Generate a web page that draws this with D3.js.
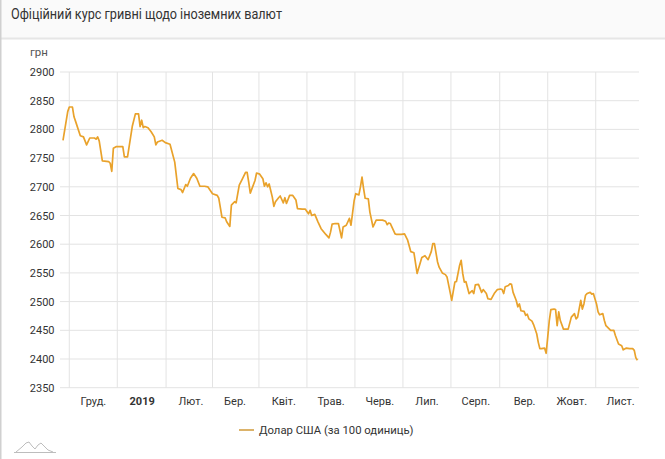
<!DOCTYPE html>
<html><head><meta charset="utf-8">
<script src="https://cdn.jsdelivr.net/npm/d3@7"></script>
<style>html,body{margin:0;padding:0;background:#fff;} svg{display:block;font-family:Roboto,"Noto Sans",sans-serif;}</style>
</head><body><svg id="chart" width="665" height="459"></svg>
<script>
const title = "Офіційний курс гривні щодо іноземних валют";
const unitLabel = "грн";
const seriesName = "Долар США (за 100 одиниць)";

const dates = [
"2018-11-12","2018-11-15","2018-11-16","2018-11-18","2018-11-19","2018-11-20","2018-11-23","2018-11-25","2018-11-27","2018-11-29",
"2018-12-02","2018-12-03","2018-12-04","2018-12-05","2018-12-07","2018-12-11","2018-12-12","2018-12-13","2018-12-14","2018-12-16",
"2018-12-20","2018-12-21","2018-12-23","2018-12-26","2018-12-28","2018-12-30","2018-12-31","2019-01-01","2019-01-02","2019-01-03",
"2019-01-05","2019-01-07","2019-01-09","2019-01-10","2019-01-11","2019-01-14","2019-01-16","2019-01-19","2019-01-22","2019-01-24",
"2019-01-26","2019-01-27","2019-01-29","2019-01-30","2019-02-01","2019-02-03","2019-02-05","2019-02-07","2019-02-10","2019-02-12",
"2019-02-15","2019-02-18","2019-02-19","2019-02-21","2019-02-23","2019-02-24","2019-02-26","2019-02-27","2019-03-01","2019-03-02",
"2019-03-04","2019-03-06","2019-03-08","2019-03-09","2019-03-10","2019-03-11","2019-03-14","2019-03-15","2019-03-17","2019-03-19",
"2019-03-20","2019-03-21","2019-03-22","2019-03-23","2019-03-25","2019-03-26","2019-03-27","2019-03-29","2019-03-30","2019-04-01",
"2019-04-02","2019-04-03","2019-04-05","2019-04-07","2019-04-09","2019-04-10","2019-04-13","2019-04-15","2019-04-17","2019-04-18",
"2019-04-19","2019-04-21","2019-04-23","2019-04-25","2019-04-28","2019-04-30","2019-05-01","2019-05-02","2019-05-04","2019-05-06",
"2019-05-08","2019-05-09","2019-05-11","2019-05-13","2019-05-14","2019-05-16","2019-05-17","2019-05-19","2019-05-20","2019-05-21",
"2019-05-22","2019-05-23","2019-05-25","2019-05-26","2019-05-28","2019-05-30","2019-06-03","2019-06-05","2019-06-06","2019-06-07",
"2019-06-08","2019-06-11","2019-06-12","2019-06-15","2019-06-17","2019-06-19","2019-06-21","2019-06-23","2019-06-25","2019-06-28",
"2019-06-30","2019-07-02","2019-07-04","2019-07-05","2019-07-06","2019-07-08","2019-07-09","2019-07-11","2019-07-13","2019-07-14",
"2019-07-16","2019-07-17","2019-07-19","2019-07-20","2019-07-22","2019-07-23","2019-07-24","2019-07-25","2019-07-26","2019-07-28",
"2019-07-30","2019-07-31","2019-08-01","2019-08-03","2019-08-05","2019-08-06","2019-08-08","2019-08-09","2019-08-11","2019-08-13",
"2019-08-15","2019-08-17","2019-08-18","2019-08-19","2019-08-20","2019-08-22","2019-08-23","2019-08-24","2019-08-25","2019-08-27",
"2019-08-28","2019-08-29","2019-08-30","2019-09-01","2019-09-02","2019-09-03","2019-09-04","2019-09-06","2019-09-07","2019-09-09",
"2019-09-10","2019-09-11","2019-09-12","2019-09-14","2019-09-15","2019-09-16","2019-09-17","2019-09-18","2019-09-20","2019-09-21",
"2019-09-22","2019-09-23","2019-09-24","2019-09-26","2019-09-28","2019-09-29","2019-10-01","2019-10-03","2019-10-04","2019-10-05",
"2019-10-07","2019-10-08","2019-10-09","2019-10-10","2019-10-11","2019-10-13","2019-10-14","2019-10-15","2019-10-17","2019-10-18",
"2019-10-19","2019-10-21","2019-10-22","2019-10-23","2019-10-26","2019-10-28","2019-10-29","2019-10-31","2019-11-02","2019-11-03",
"2019-11-05","2019-11-07","2019-11-09","2019-11-10","2019-11-11","2019-11-12"
];
const values = [
2781,2831,2839,2839,2822,2814,2789,2787,2773,2785,
2785,2783,2787,2780,2745,2744,2741,2727,2767,2770,
2770,2752,2752,2805,2827,2827,2805,2816,2803,2805,
2803,2796,2787,2773,2778,2781,2777,2774,2743,2697,
2695,2690,2704,2701,2715,2723,2715,2701,2701,2700,
2688,2685,2680,2647,2646,2639,2631,2668,2674,2672,
2703,2714,2725,2725,2708,2689,2711,2724,2722,2714,
2701,2707,2700,2705,2682,2666,2674,2681,2684,2672,
2681,2671,2685,2685,2677,2662,2661,2661,2653,2659,
2650,2652,2639,2627,2617,2611,2621,2635,2636,2636,
2611,2630,2633,2645,2633,2676,2688,2686,2700,2717,
2697,2680,2679,2656,2630,2642,2642,2640,2634,2637,
2636,2618,2617,2617,2618,2607,2587,2585,2549,2577,
2580,2573,2587,2601,2601,2569,2560,2550,2547,2543,
2516,2502,2534,2535,2563,2572,2549,2534,2535,2514,
2519,2514,2529,2530,2516,2521,2514,2505,2504,2514,
2521,2522,2521,2514,2526,2528,2531,2530,2516,2502,
2491,2496,2484,2483,2476,2478,2470,2466,2460,2444,
2429,2418,2418,2419,2410,2438,2467,2486,2487,2486,
2458,2482,2467,2452,2452,2452,2473,2479,2470,2473,
2502,2487,2496,2511,2514,2516,2513,2514,2496,2482,
2477,2479,2467,2458,2450,2450,2441,2426,2423,2416,
2419,2418,2418,2415,2402,2398
];

const monthTickDates = ["2018-12-01","2019-01-01","2019-02-01","2019-03-01","2019-04-01","2019-05-01","2019-06-01","2019-07-01","2019-08-01","2019-09-01","2019-10-01","2019-11-01"];
const monthTickLabels = ["Груд.","2019","Лют.","Бер.","Квіт.","Трав.","Черв.","Лип.","Серп.","Вер.","Жовт.","Лист."];
const gridMonthStarts = ["2018-11-01","2018-12-01","2019-01-01","2019-02-01","2019-03-01","2019-04-01","2019-05-01","2019-06-01","2019-07-01","2019-08-01","2019-09-01","2019-10-01","2019-11-01","2019-12-01"];
const yTicks = [2350,2400,2450,2500,2550,2600,2650,2700,2750,2800,2850,2900];
const xDomain = ["2018-11-12","2019-11-13"];
const yDomain = [2350, 2900];

const parse = d3.utcParse("%Y-%m-%d");
const data = dates.map((d, i) => ({date: parse(d), v: values[i]}));

const svg = d3.select("#chart");
const W = 665, H = 459;
const pLeft = 63, pRight = 639, pTop = 72, pBottom = 387.7;

// card
svg.append("rect").attr("x",0).attr("y",0).attr("width",W).attr("height",H).attr("fill","#fff");
svg.append("rect").attr("x",0).attr("y",0).attr("width",W).attr("height",38).attr("fill","#fafafa");
svg.append("line").attr("x1",0).attr("x2",W).attr("y1",38.5).attr("y2",38.5).attr("stroke","#e6e6e6").attr("stroke-width",2);
svg.append("line").attr("x1",0.75).attr("x2",0.75).attr("y1",0).attr("y2",H).attr("stroke","#d0d0d0").attr("stroke-width",1.5);

svg.append("text").attr("x",11).attr("y",19).attr("font-size",14).attr("fill","#333")
  .attr("textLength",271).attr("lengthAdjust","spacingAndGlyphs").text(title);

svg.append("text").attr("x",30).attr("y",56).attr("font-size",11.5).attr("fill","#555").text(unitLabel);

const x = d3.scaleUtc().domain(xDomain.map(parse)).range([pLeft, pRight]);
const y = d3.scaleLinear().domain(yDomain).range([pBottom, pTop]);

// grids
const gx = svg.append("g");
yTicks.forEach(t => {
  gx.append("line").attr("x1",60).attr("x2",pRight).attr("y1",y(t)).attr("y2",y(t))
    .attr("stroke","#e3e3e3").attr("stroke-width",1);
});
const gms = gridMonthStarts.map(parse);
for (let i = 0; i < gms.length - 1; i++) {
  const xm = (x(gms[i]) + x(gms[i+1])) / 2;
  if (xm < pLeft || xm > pRight) continue;
  gx.append("line").attr("x1",xm).attr("x2",xm).attr("y1",pTop).attr("y2",pBottom)
    .attr("stroke","#e3e3e3").attr("stroke-width",1);
}

// axes
const yAxis = svg.append("g").attr("transform",`translate(${pLeft},0)`)
  .call(d3.axisLeft(y).tickValues(yTicks).tickSize(0).tickPadding(8.5).tickFormat(d3.format("d")));
yAxis.select(".domain").remove();
yAxis.selectAll("text").attr("font-size",11).attr("fill","#333").attr("font-family","Roboto");

const xAxis = svg.append("g").attr("transform",`translate(0,${pBottom})`)
  .call(d3.axisBottom(x).tickValues(monthTickDates.map(parse)).tickSize(0).tickPadding(9.5)
    .tickFormat((d, i) => monthTickLabels[i]));
xAxis.select(".domain").remove();
xAxis.selectAll("text").attr("font-size",11).attr("fill","#333").attr("font-family","Roboto")
  .attr("font-weight",(d,i)=> monthTickLabels[i] === "2019" ? "bold" : "normal");

// line
svg.append("path").datum(data)
  .attr("fill","none").attr("stroke","#e9a22b").attr("stroke-width",1.7)
  .attr("stroke-linejoin","round")
  .attr("d", d3.line().x(d => x(d.date)).y(d => y(d.v)));

// legend
svg.append("line").attr("x1",239).attr("x2",254).attr("y1",430).attr("y2",430)
  .attr("stroke","#dcb36a").attr("stroke-width",2);
svg.append("text").attr("x",259).attr("y",434).attr("font-size",11.3).attr("fill","#333").text(seriesName);

// logo
svg.append("path")
  .attr("d","M16,452 L22,447 L26,443 L29,442 L32,446 L35,449 L38,445 L41,443 L44,446 L48,450 L53,452 M14,452.5 L56,452.5")
  .attr("fill","none").attr("stroke","#bdbdbd").attr("stroke-width",1);
</script></body></html>
